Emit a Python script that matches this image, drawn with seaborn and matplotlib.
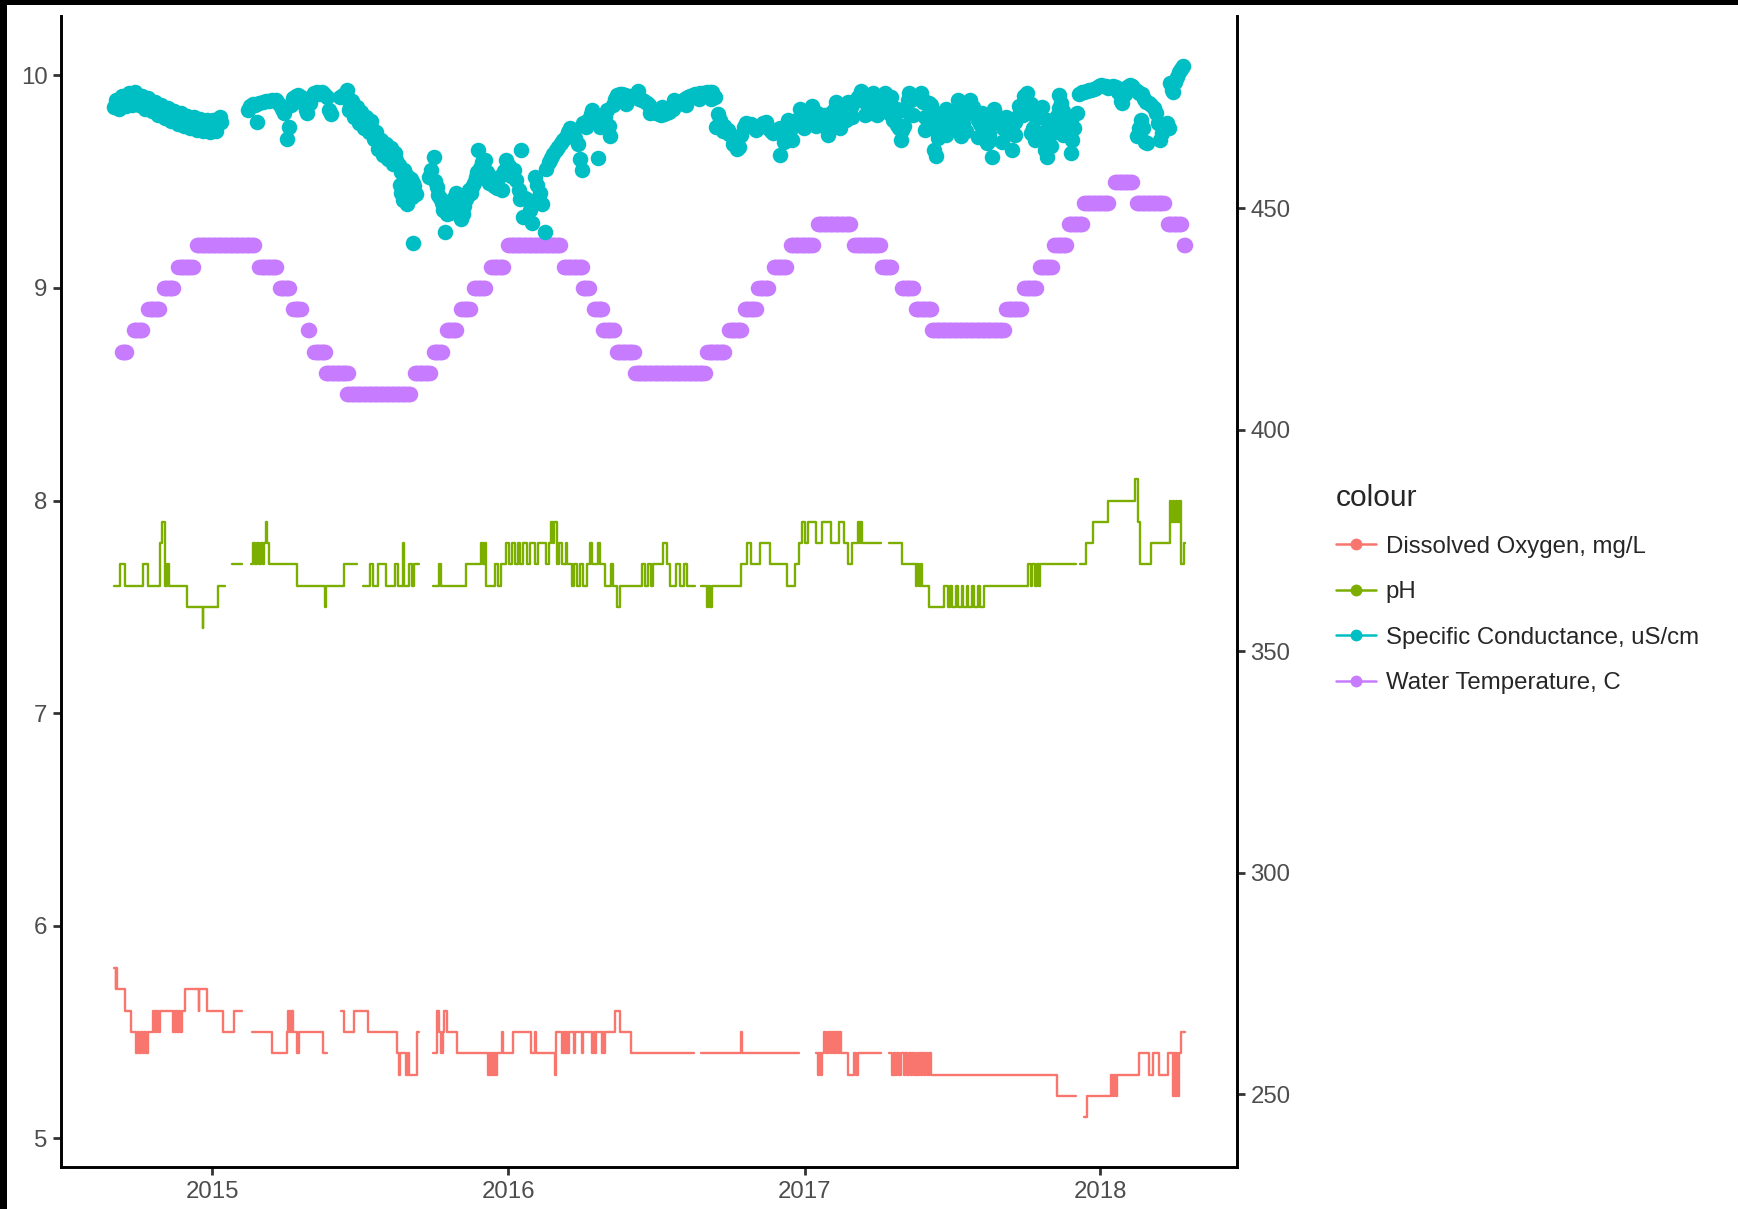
import numpy as np
import pandas as pd
import matplotlib
matplotlib.use("Agg")
import matplotlib.pyplot as plt
import matplotlib.dates as mdates
from matplotlib.lines import Line2D
from matplotlib.patches import Rectangle
import seaborn as sns

# ---------------- data (days counted from 2015-01-01) ----------------
ORIGIN = pd.Timestamp("2015-01-01")

series_labels = ["Dissolved Oxygen, mg/L", "pH",
                 "Specific Conductance, uS/cm", "Water Temperature, C"]
series_colors = ["#F8766D", "#7CAE00", "#00BFC4", "#C77CFF"]
year_ticks = [2015, 2016, 2017, 2018]
left_ticks = [5, 6, 7, 8, 9, 10]
right_ticks = [250, 300, 350, 400, 450]
SEC_FACTOR = 48  # secondary axis = primary * 48

# Water temperature: runs of a constant reading
temp_start = [-112, -97, -79, -60, -42, -19, 58, 83, 100, 118,
              126, 140, 166, 250, 273, 289, 307, 323, 344, 365,
              434, 457, 471, 482, 499, 522, 611, 638, 657, 674,
              693, 714, 747, 792, 827, 851, 868, 888, 980, 1002,
              1021, 1039, 1057, 1076, 1114, 1141, 1179, 1199]
temp_end = [-106, -86, -65, -47, -24, 52, 79, 96, 109, 120,
            140, 167, 244, 269, 284, 302, 318, 337, 359, 430,
            457, 465, 482, 496, 520, 608, 632, 654, 671, 687,
            709, 742, 788, 824, 838, 865, 888, 977, 999, 1018,
            1036, 1054, 1074, 1106, 1136, 1174, 1196, 1201]
temp_c = [8.7, 8.8, 8.9, 9.0, 9.1, 9.2, 9.1, 9.0, 8.9, 8.8,
          8.7, 8.6, 8.5, 8.6, 8.7, 8.8, 8.9, 9.0, 9.1, 9.2,
          9.1, 9.0, 8.9, 8.8, 8.7, 8.6, 8.7, 8.8, 8.9, 9.0,
          9.1, 9.2, 9.3, 9.2, 9.1, 9.0, 8.9, 8.8, 8.9, 9.0,
          9.1, 9.2, 9.3, 9.4, 9.5, 9.4, 9.3, 9.2]

# Specific conductance readings
cond_day = [
    -121, -117, -113, -109, -105, -101, -97, -93, -89, -85, -81, -77, -73, -69, -65, -61, -57,
    -53, -49, -45, -41, -37, -33, -29, -25, -21, -17, -13, -9, -5, -1, 3, 7, 11,
    44, 47, 50, 53, 55, 58, 62, 66, 70, 74, 78, 82, 86, 89, 92, 94, 97, 100, 103, 106,
    109, 112, 115, 117, 120, 123, 126, 129, 132, 135, 138, 141, 144, 147,
    158, 161, 164, 167, 170, 173, 176, 179, 182, 185, 188, 191, 194, 197, 200, 203, 206, 209,
    212, 215, 218, 221, 224, 227, 230, 233, 236, 239, 242, 245, 248, 231, 233, 235, 238, 240,
    243, 246, 249, 251, 248,
    267, 270, 273, 275, 277, 279, 281, 283, 285, 287, 289, 291, 293, 295, 297, 299, 301, 303,
    305, 307, 309, 311, 313, 315, 317, 319, 321, 323, 325, 327, 328, 330, 333, 336, 339, 342,
    345, 348, 351, 354, 357, 360, 363, 366, 369, 372, 375, 378, 381, 380, 383, 386, 389, 392,
    395, 398, 401, 404, 407, 410, 412, 415, 418, 421, 424, 427, 430, 433, 436, 439, 442, 445,
    448, 451, 454, 456, 458, 461, 464, 467, 469, 472, 474, 476, 478, 481, 484, 487, 490, 491,
    494, 497, 500,
    503, 506, 509, 512, 515, 518, 521, 524, 527, 530, 533, 536, 539, 542, 545, 548, 551, 554,
    557, 560, 563, 566, 569, 572, 575, 578, 581, 584, 587, 590, 593, 596, 599, 602, 605, 608,
    611, 614, 617, 620,
    622, 624, 626, 628, 630, 632, 634, 636, 638, 641, 643, 645, 647, 650, 653, 656, 659, 662,
    665, 668, 671, 674, 677, 680, 683, 686, 689, 692, 695, 700, 698, 701, 704, 707, 710, 713,
    716, 719, 722, 725, 728, 731, 734, 737, 740, 743, 746, 749, 752, 755, 758, 761, 764, 767,
    770, 773, 776, 779, 782, 785, 788, 791, 794, 797, 800, 803, 806, 809, 811, 814, 817, 820,
    823, 826, 829, 832, 835, 838, 840, 842, 845, 848, 851, 854, 856, 859, 862, 865, 868, 871,
    874, 877, 879, 881, 884, 887, 889, 891, 893, 895, 898, 901, 904, 907, 910, 913, 916, 919,
    921, 924, 927, 930, 933, 936, 939, 942, 945, 948, 951, 954, 956, 959, 962, 964, 967, 970,
    973, 976, 979, 982, 985, 987, 990, 993, 996, 999, 1002, 1005, 1008, 1010, 1013, 1016, 1019,
    1022, 1024, 1026, 1028, 1030, 1033, 1036, 1039, 1042, 1045, 1047, 1050, 1053, 1056, 1059,
    1061, 1064, 1067, 1070, 1073, 1076, 1079, 1082, 1085, 1088, 1091, 1094, 1097, 1100, 1103,
    1106, 1109, 1112, 1115, 1118, 1121, 1123, 1126, 1129, 1132, 1135, 1138, 1141, 1144, 1147,
    1150, 1152, 1141, 1144, 1146, 1149, 1151, 1153, 1156, 1159, 1162, 1165, 1167, 1170, 1172,
    1175, 1178, 1181, 1182, 1184, 1186, 1188, 1190, 1193, 1196, 1198,
    510, 525, 540, 555, 570, 585, 600, 615,
    705, 715, 730, 745, 760, 775, 790, 805, 820, 835, 850, 865, 880, 895, 905, 915, 930,
    945, 960, 975, 990, 1000, 1015, 1035, 1050, 1060,
    710, 725, 740, 755, 770, 785, 800, 815, 830, 845, 860, 875, 890, 905, 920, 935, 950,
    965, 980, 995, 1010, 1030, 1045, 1060,
    -119, -111, -103, -95, -87, -79, -71, -63, -55, -47, -39, -31, -23, -15, -7, 1, 9,
    -115, -107, -99, -91, -83, -75, -67, -59, -51, -43, -35, -27, -19, -11, -3, 5,
    166, 172, 178, 184, 190, 196, 202, 208, 214, 220, 226,
    169, 175, 181, 187, 193, 199, 205, 211, 217, 223]
cond_us = [
    472.8, 473.4, 473.8, 474.2, 474.6, 474.8, 474.5, 475.3, 474.2, 473.9, 473.6, 473.4, 473.0,
    472.4, 472.2, 471.9, 471.6, 471.2, 470.9, 470.6, 470.3, 470.0, 469.7, 469.5, 469.3, 469.1,
    468.9, 468.8, 468.7, 468.6, 468.7, 468.6, 469.0, 469.4,
    472.2, 473.0, 473.5, 473.3, 469.5, 473.7, 473.9, 474.1, 474.3, 474.5, 474.4, 473.5, 472.4,
    471.6, 465.6, 468.3, 473.2, 474.8, 475.4, 475.6, 475.0, 473.8, 472.2, 471.4, 473.8, 475.3,
    476.0, 476.3, 475.9, 476.2, 475.8, 475.0, 472.2, 471.3,
    475.0, 475.6, 475.8, 474.8, 473.0, 472.4, 471.8, 471.0, 470.5, 470.0, 469.6, 469.0, 468.5,
    467.8, 466.8, 465.4, 464.5, 463.8, 463.3, 462.8, 462.3, 461.8, 461.2, 460.8, 459.8, 458.2,
    458.6, 457.6, 457.0, 456.6, 455.8, 455.2, 453.4, 451.8, 452.8, 451.0, 453.6, 452.6, 455.0,
    453.2, 442.2,
    457.0, 458.6, 461.6, 456.2, 454.9, 453.0, 452.4, 451.2, 449.5, 444.7, 448.6, 449.6, 448.9,
    450.8, 452.0, 452.6, 453.4, 450.5, 449.0, 447.6, 448.8, 450.5, 452.0, 453.0, 454.0, 453.4,
    454.8, 455.6, 457.0, 458.2, 463.1, 459.0, 460.4, 460.9, 458.2, 455.8, 456.4, 455.0, 454.6,
    457.0, 454.1, 458.5, 460.9, 459.6, 457.2, 458.6, 456.4, 454.0, 463.1, 452.0, 448.1, 452.4,
    451.9, 449.5, 446.6, 457.1, 455.2, 453.4, 451.0, 444.7, 458.8, 460.5, 461.4, 462.2, 463.1,
    463.9, 464.8, 465.4, 466.1, 467.2, 468.1, 467.0, 465.8, 464.6, 461.0, 458.6, 469.2, 468.4,
    470.0, 471.2, 472.2, 470.8, 469.5, 461.3, 468.4, 469.5, 470.5, 472.2, 468.5, 466.2, 473.2,
    474.6, 475.6,
    475.8, 475.9, 475.6, 475.4, 475.3, 475.2, 475.0, 475.1, 474.7, 474.4, 474.2, 473.8, 473.4,
    472.4, 472.0, 471.5, 471.2, 471.0, 471.2, 471.4, 471.8, 472.3, 472.5, 473.2, 473.7, 474.1,
    474.4, 474.8, 475.1, 475.3, 475.6, 475.8, 475.9, 476.0, 476.1, 476.1, 476.2, 476.3, 476.3,
    475.2,
    468.4, 471.2, 470.0, 468.3, 467.5, 468.6, 467.4, 467.7, 466.8, 466.2, 464.6, 466.0, 463.4,
    463.9, 466.6, 468.4, 469.2, 468.6, 469.0, 468.4, 467.6, 468.3, 468.8, 469.2, 469.4, 468.2,
    467.4, 466.9, 467.3, 462.0, 467.8, 468.0, 467.4, 467.2, 467.5, 467.7, 468.3, 469.2, 470.0,
    470.7, 471.0, 471.2, 471.3, 470.4, 471.0, 471.4, 471.4, 469.8, 469.0, 468.6, 468.4, 470.0,
    471.6, 472.2, 472.0, 471.2, 470.6, 470.0, 469.9, 471.4, 472.8, 473.7, 474.5, 475.0, 475.4,
    475.6, 474.0, 471.8, 471.4, 472.8, 474.0, 474.4, 474.0, 472.2, 473.2, 474.6, 475.2, 475.2,
    469.9, 471.0, 468.8, 468.0, 467.7, 468.5, 472.0, 474.4, 474.5, 474.8, 475.0, 475.2, 474.6,
    474.0, 467.7, 474.0, 473.8, 473.4, 469.2, 463.2, 461.7, 465.8, 468.8, 469.6, 470.0, 469.9,
    470.5, 471.4, 472.0, 472.2, 470.0, 466.2, 469.0, 471.2, 472.2, 472.6, 472.9, 471.4, 470.0,
    469.0, 468.4, 468.0, 464.7, 466.8, 461.6, 469.2, 470.4, 470.7, 469.6, 468.0, 467.6, 467.0,
    466.9, 463.2, 469.4, 470.7, 470.8, 472.8, 475.3, 476.0, 472.4, 466.9, 468.0, 470.4, 472.0,
    472.6, 472.9, 467.2, 463.2, 461.6, 464.4, 466.9, 468.2, 470.8, 472.6, 473.7, 472.0, 469.2,
    467.6, 466.2, 465.4, 468.0, 471.4, 475.8, 476.3, 476.3, 476.4, 476.7, 476.8, 476.9, 477.1,
    477.5, 477.8, 477.7, 477.5, 477.2, 477.4, 477.6, 477.4, 476.2, 474.2, 473.7, 475.8, 477.4,
    477.8, 477.6, 477.0, 476.4, 476.0, 475.8, 474.6, 474.0, 466.2, 468.0, 469.9, 468.2, 465.0,
    464.7, 473.7, 473.2, 472.6, 471.5, 469.2, 465.4, 467.0, 468.4, 469.2, 468.1, 478.2, 476.6,
    476.3, 478.6, 479.7, 480.8, 481.5, 482.0,
    473.5, 476.5, 471.5, 472.8, 474.5, 473.2, 474.6, 474.6,
    465.0, 465.5, 468.0, 468.5, 466.5, 468.0, 470.5, 471.0, 471.0, 471.5, 465.5, 471.0, 470.5,
    467.0, 466.5, 468.5, 467.5, 466.0, 465.5, 465.0, 466.5, 471.0, 465.5, 464.0, 466.5, 462.5,
    470.0, 472.5, 473.0, 471.0, 474.0, 474.0, 476.5, 476.0, 476.0, 472.5, 476.0, 476.0, 472.0,
    472.5, 474.5, 474.5, 471.5, 472.5, 470.5, 473.0, 473.5, 470.0, 475.5, 470.0,
    474.4, 475.3, 476.0, 476.2, 475.3, 474.8, 474.0, 473.3, 472.7, 472.0, 471.4, 470.9, 470.5,
    470.1, 469.9, 469.9, 470.5,
    472.3, 473.1, 473.4, 473.3, 472.4, 471.9, 471.0, 470.4, 469.7, 469.1, 468.5, 468.1, 467.7,
    467.4, 467.3, 467.5,
    476.6, 474.1, 472.8, 471.7, 470.7, 469.7, 467.3, 465.5, 464.5, 463.5, 462.5,
    472.1, 470.5, 469.2, 468.2, 467.2, 465.6, 463.3, 462.0, 461.0, 459.9]

# pH: value changes (NaN = gap in the record)
ph_day = [-121, -114, -108, -86, -80, -64, -62, -59, -56, -53, -31, -12, -11, 7, 15.6,
          24, 36.5,
          47.5, 50, 53, 55, 58, 60, 62, 64, 66, 68, 70, 104, 139, 140, 162, 178,
          186, 195, 198, 205, 214, 226, 229, 235, 237, 243, 246, 249, 255,
          272, 280, 282, 313, 332, 334, 336, 338, 349, 352, 356, 362, 366, 370, 373, 377,
          380, 383, 388, 392, 398, 402, 412, 415, 418, 420, 422, 425, 428, 431, 436, 438,
          444, 446, 450, 454, 458, 462, 466, 468, 476, 478, 485, 492, 495, 500, 503, 530,
          534, 538, 541, 544, 556, 561, 565, 572, 577, 582, 586, 596,
          603, 610, 612, 614, 617, 653, 660, 665, 676, 688, 709, 719, 724, 728, 731, 735,
          745, 752, 764, 773, 780, 785, 790, 797, 799, 800, 802, 825,
          835, 851, 868, 870, 872, 874, 876, 884, 903, 908, 911, 913, 918, 920, 925, 927,
          931, 933, 938, 940, 945, 947, 952, 1007, 1010, 1012, 1015, 1018, 1020, 1022, 1066,
          1071, 1078, 1087, 1106, 1139, 1142, 1145, 1158, 1182, 1183, 1185, 1187, 1189,
          1191, 1193, 1195, 1199, 1201]
ph_value = [7.6, 7.7, 7.6, 7.7, 7.6, 7.8, 7.9, 7.6, 7.7, 7.6, 7.5, 7.4, 7.5, 7.6, np.nan,
            7.7, np.nan,
            7.7, 7.8, 7.7, 7.8, 7.7, 7.8, 7.7, 7.8, 7.9, 7.8, 7.7, 7.6, 7.5, 7.6, 7.7, np.nan,
            7.6, 7.7, 7.6, 7.7, 7.6, 7.7, 7.6, 7.8, 7.6, 7.7, 7.6, 7.7, np.nan,
            7.6, 7.7, 7.6, 7.7, 7.8, 7.7, 7.8, 7.6, 7.7, 7.6, 7.7, 7.8, 7.7, 7.8, 7.7, 7.8,
            7.7, 7.8, 7.7, 7.8, 7.7, 7.8, 7.7, 7.8, 7.9, 7.8, 7.9, 7.7, 7.8, 7.7, 7.8, 7.7,
            7.6, 7.7, 7.6, 7.7, 7.6, 7.7, 7.8, 7.7, 7.8, 7.7, 7.6, 7.7, 7.6, 7.5, 7.6, 7.7,
            7.6, 7.7, 7.6, 7.7, 7.8, 7.7, 7.6, 7.7, 7.6, 7.7, 7.6, np.nan,
            7.6, 7.5, 7.6, 7.5, 7.6, 7.7, 7.8, 7.7, 7.8, 7.7, 7.6, 7.7, 7.8, 7.9, 7.8, 7.9,
            7.8, 7.9, 7.8, 7.9, 7.8, 7.7, 7.8, 7.9, 7.8, 7.9, 7.8, np.nan,
            7.8, 7.7, 7.6, 7.7, 7.6, 7.7, 7.6, 7.5, 7.6, 7.5, 7.6, 7.5, 7.6, 7.5, 7.6, 7.5,
            7.6, 7.5, 7.6, 7.5, 7.6, 7.5, 7.6, 7.7, 7.6, 7.7, 7.6, 7.7, 7.6, 7.7, np.nan,
            7.7, 7.8, 7.9, 8.0, 8.1, 7.9, 7.7, 7.8, 8.0, 7.9, 8.0, 7.9, 8.0,
            7.9, 8.0, 7.7, 7.8, np.nan]

# Dissolved oxygen: value changes (NaN = gap in the record)
do_day = [-121, -119.5, -118.5, -117.5, -108, -100, -94, -92, -90, -88, -86, -84, -82, -79,
          -77, -73, -71, -69, -67, -65, -48, -47, -46, -45, -44, -43, -42, -41, -40, -38,
          -34, -17, -16, -6.5, 13, 27, 36.5,
          48.6, 73.4, 92.7, 93, 94.5, 95.5, 97, 98, 99.3, 104, 106.5, 136.8, 142,
          158.8, 163, 175, 192, 228, 230, 231, 239, 241, 243, 252, 255,
          271.7, 277, 280, 282, 285, 286, 290, 302, 340, 341.5, 342.5, 344, 345, 346.5,
          347.5, 349, 350, 351.6, 357, 359, 371, 393, 398, 400, 423, 424, 432, 434, 435,
          437, 438, 440, 446, 448, 456, 457, 469, 471, 472, 474, 481, 482, 483, 485, 497,
          503, 517, 594,
          603, 652.5, 653.5, 724,
          745, 748, 749, 751, 752, 755, 757, 760, 762, 764, 766, 767, 769, 770, 772, 773,
          776, 785, 792, 794, 797, 825,
          835, 839, 841, 843, 845, 848, 850, 853, 855, 857, 860, 862, 864, 866, 868, 870,
          872, 874, 876, 878, 880, 882, 884, 886.6, 1042.5, 1066,
          1075.6, 1080, 1108.6, 1111, 1113, 1115, 1117, 1144, 1156, 1161, 1168, 1180, 1185,
          1186, 1187, 1188, 1189, 1190, 1193, 1196, 1201]
do_value = [5.8, 5.7, 5.8, 5.7, 5.6, 5.5, 5.4, 5.5, 5.4, 5.5, 5.4, 5.5, 5.4, 5.5,
            5.5, 5.6, 5.5, 5.6, 5.5, 5.6, 5.5, 5.6, 5.5, 5.6, 5.5, 5.6, 5.5, 5.6, 5.5, 5.6,
            5.7, 5.6, 5.7, 5.6, 5.5, 5.6, np.nan,
            5.5, 5.4, 5.5, 5.6, 5.5, 5.6, 5.5, 5.6, 5.5, 5.4, 5.5, 5.4, np.nan,
            5.6, 5.5, 5.6, 5.5, 5.4, 5.3, 5.4, 5.3, 5.4, 5.3, 5.5, np.nan,
            5.4, 5.6, 5.5, 5.4, 5.5, 5.6, 5.5, 5.4, 5.3, 5.4, 5.3, 5.4, 5.3, 5.4,
            5.3, 5.4, 5.3, 5.4, 5.5, 5.4, 5.5, 5.4, 5.5, 5.4, 5.3, 5.5, 5.4, 5.5, 5.4,
            5.5, 5.4, 5.5, 5.4, 5.5, 5.4, 5.5, 5.4, 5.5, 5.4, 5.5, 5.4, 5.5, 5.4, 5.5, 5.6,
            5.5, 5.4, np.nan,
            5.4, 5.5, 5.4, np.nan,
            5.4, 5.3, 5.4, 5.3, 5.4, 5.5, 5.4, 5.5, 5.4, 5.5, 5.4, 5.5, 5.4, 5.5, 5.4, 5.5,
            5.4, 5.3, 5.4, 5.3, 5.4, np.nan,
            5.4, 5.3, 5.4, 5.3, 5.4, 5.3, 5.4, 5.3, 5.4, 5.3, 5.4, 5.3, 5.4, 5.3, 5.4, 5.3,
            5.4, 5.3, 5.4, 5.3, 5.4, 5.3, 5.4, 5.3, 5.2, np.nan,
            5.1, 5.2, 5.3, 5.2, 5.3, 5.2, 5.3, 5.4, 5.3, 5.4, 5.3, 5.4, 5.3,
            5.2, 5.4, 5.2, 5.4, 5.2, 5.4, 5.5, np.nan]


# ---------------- helpers ----------------
def to_dates(days):
    return ORIGIN + pd.to_timedelta(np.asarray(days, dtype=float), unit="D")


def step_frame(days, values):
    """Turn change points into step segments; NaN closes a segment."""
    rows, seg, last = [], 0, None
    for d, v in zip(days, values):
        if np.isnan(v):
            if last is not None:
                rows.append((d, last, seg))
            seg += 1
            last = None
        else:
            rows.append((d, v, seg))
            last = v
    df = pd.DataFrame(rows, columns=["day", "value", "seg"])
    df["date"] = to_dates(df["day"])
    return df


temp_days, temp_vals = [], []
for s, e, v in zip(temp_start, temp_end, temp_c):
    pts = np.arange(s, e + 0.01, 1.5)
    temp_days.extend(pts)
    temp_vals.extend([v] * len(pts))
temp_df = pd.DataFrame({"date": to_dates(temp_days), "value": temp_vals})
cond_df = pd.DataFrame({"date": to_dates(cond_day),
                        "value": np.asarray(cond_us) / SEC_FACTOR})
ph_df = step_frame(ph_day, ph_value)
do_df = step_frame(do_day, do_value)

# ---------------- figure ----------------
sns.set_theme(style="ticks")
plt.rcParams["font.family"] = ["Liberation Sans", "DejaVu Sans"]

W, H = 1738, 1209
fig = plt.figure(figsize=(W / 100, H / 100), dpi=100)
fig.patch.set_facecolor("black")
fig.add_artist(Rectangle((7 / W, 0), 1, 1 - 5 / H, transform=fig.transFigure,
                         facecolor="white", edgecolor="none", zorder=-10))

ax = fig.add_axes([61 / W, 1 - 1167 / H, (1237 - 61) / W, (1167 - 15.5) / H])
ax.set_facecolor("white")

LW = 1.7
PT = 125
sns.lineplot(data=do_df, x="date", y="value", units="seg", estimator=None,
             color=series_colors[0], linewidth=LW, drawstyle="steps-post",
             sort=False, legend=False, ax=ax)
sns.lineplot(data=ph_df, x="date", y="value", units="seg", estimator=None,
             color=series_colors[1], linewidth=LW, drawstyle="steps-post",
             sort=False, legend=False, ax=ax)
sns.scatterplot(data=temp_df, x="date", y="value", color=series_colors[3],
                s=PT, linewidth=0, legend=False, ax=ax)
sns.scatterplot(data=cond_df, x="date", y="value", color=series_colors[2],
                s=PT, linewidth=0, legend=False, ax=ax)

ax.set_xlim(to_dates([-186.8, 1264.6]))
ax.set_ylim(4.865, 10.2815)
ax.set_xticks(pd.to_datetime([f"{y}-01-01" for y in year_ticks]))
ax.xaxis.set_major_formatter(mdates.DateFormatter("%Y"))
ax.xaxis.set_minor_locator(matplotlib.ticker.NullLocator())
ax.set_yticks(left_ticks)
ax.set_xlabel("")
ax.set_ylabel("")
ax.grid(False)

for side in ["top", "right"]:
    ax.spines[side].set_visible(False)
for side in ["left", "bottom"]:
    ax.spines[side].set_color("black")
    ax.spines[side].set_linewidth(2.1)

tick_kw = dict(length=5.5, width=2.0, color="#333333", labelsize=17.3,
               labelcolor="#4D4D4D", pad=4.3)
ax.tick_params(axis="both", which="major", **tick_kw)

sec = ax.secondary_yaxis("right", functions=(lambda y: y * SEC_FACTOR,
                                             lambda y: y / SEC_FACTOR))
sec.set_yticks(right_ticks)
sec.spines["right"].set_color("black")
sec.spines["right"].set_linewidth(2.1)
sec.tick_params(axis="y", which="major", **tick_kw)
sec.yaxis.set_minor_locator(matplotlib.ticker.NullLocator())

handles = [Line2D([], [], color=c, marker="o", markersize=7.5, linewidth=1.8)
           for c in series_colors]
fig.legend(handles, series_labels, loc="upper left",
           bbox_to_anchor=(1336 / W, 1 - 484 / H), frameon=False,
           title="colour", fontsize=17.3, title_fontsize=21.6,
           handlelength=1.67, handletextpad=0.4, labelspacing=0.98,
           borderpad=0, borderaxespad=0, alignment="left")

fig.savefig("out.png", dpi=100, facecolor=fig.get_facecolor())
